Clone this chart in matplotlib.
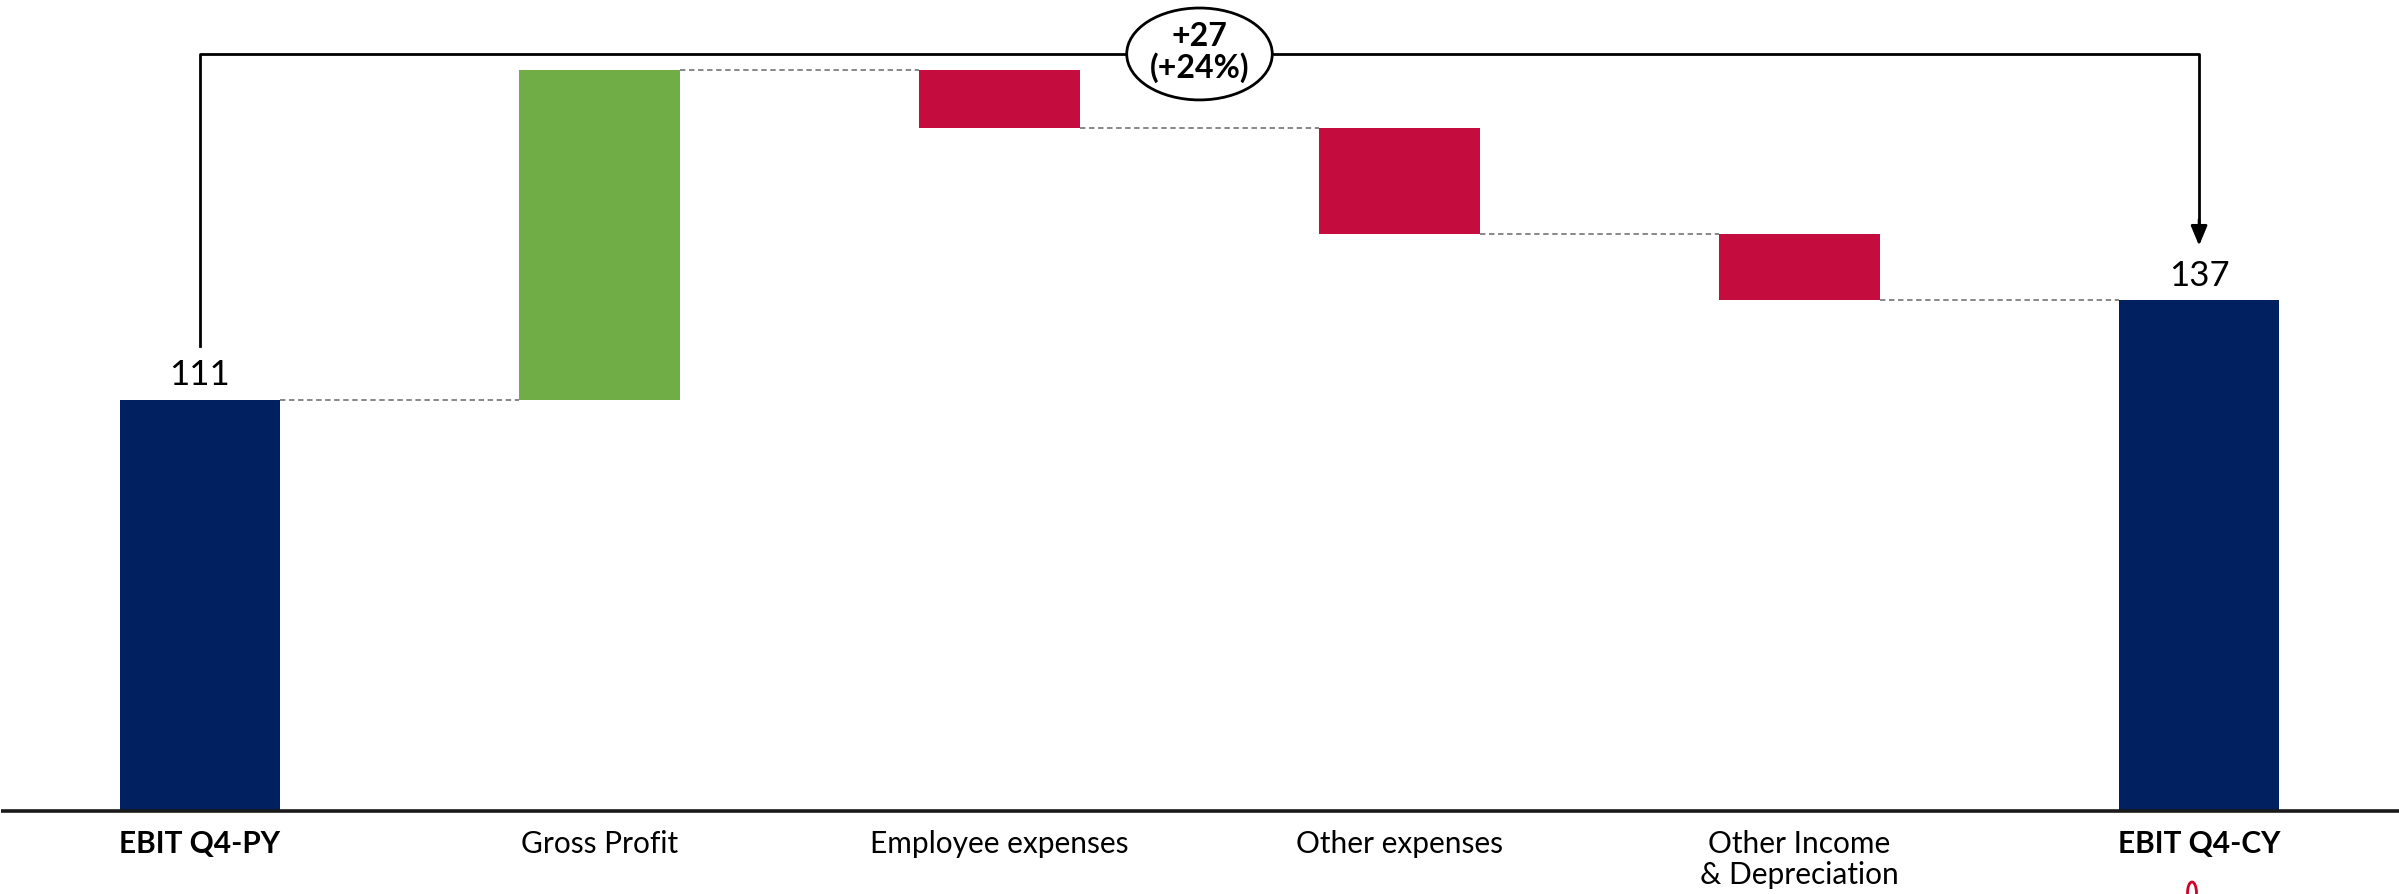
import matplotlib
matplotlib.use("Agg")
import matplotlib.pyplot as plt
from matplotlib.patches import Ellipse

categories = ["EBIT Q4-PY", "Gross Profit", "Employee expenses", "Other expenses",
              "Other Income\n& Depreciation", "EBIT Q4-CY"]
start_value = 110.6
changes = [88.6, -15.6, -28.4, -17.8]
end_value = 137.4
value_labels = ["111", "137"]
delta_label = "+27\n(+24%)"

NAVY = "#002060"
GREEN = "#70AD47"
RED = "#C50C3F"

plt.rcParams["font.family"] = ["Lato", "DejaVu Sans"]

fig = plt.figure(figsize=(23.99, 8.94), dpi=100)
ax = fig.add_axes([0.0, 0.0925, 1.0, 0.9075])
ax.set_xlim(-0.5, 5.5)
ax.set_ylim(0, 218)
ax.axis("off")

w = 0.402
ax.bar(0, start_value, width=w, color=NAVY)
ax.bar(5, end_value, width=w, color=NAVY)
level = start_value
levels = [level]
for i, c in enumerate(changes, start=1):
    ax.bar(i, c, bottom=level, width=w, color=GREEN if c > 0 else RED)
    level += c
    levels.append(level)

# connectors
for i, lv in enumerate(levels):
    ax.plot([i + w / 2, i + 1 - w / 2], [lv, lv], ls=(0, (3, 2)), color="#7f7f7f", lw=1.3)

# baseline
ax.plot([-0.498, 5.5], [0, 0], color="#1a1a1a", lw=2.6, clip_on=False, zorder=3,
        solid_capstyle="butt")

# value labels
for x, y, lab in [(0, start_value, value_labels[0]), (5, end_value, value_labels[1])]:
    ax.annotate(lab, (x, y), xytext=(0, 6), textcoords="offset points",
                ha="center", va="bottom", fontsize=25)

# category labels
for i, cat in enumerate(categories):
    bold = i in (0, 5)
    ax.text(i, -5.0, cat, ha="center", va="top", fontsize=21.5,
            fontweight="bold" if bold else "normal", linespacing=1.15)

# bracket
top = 203.5
ax.plot([0, 0, 5, 5], [125, top, top, 158], color="black", lw=2, zorder=3)
ax.annotate("", xy=(5, 152), xytext=(5, 159),
            arrowprops=dict(arrowstyle="-|>,head_length=1.2,head_width=0.5", color="black",
                            lw=2, shrinkA=0, shrinkB=0))
ax.add_patch(Ellipse((2.5, top), 0.364, 24.7, facecolor="white", edgecolor="black", lw=2, zorder=4))
ax.text(2.5, top + 0.5, delta_label, ha="center", va="center", fontsize=23, fontweight="bold",
        zorder=5, linespacing=1.05)

# logo fragment bottom-right
fig.add_artist(Ellipse((2192 / 2399, 1 - 893 / 894), 9 / 2399, 22 / 894, transform=fig.transFigure,
                       facecolor="none", edgecolor="#D0002A", lw=2))

fig.savefig("out.png", dpi=100)
